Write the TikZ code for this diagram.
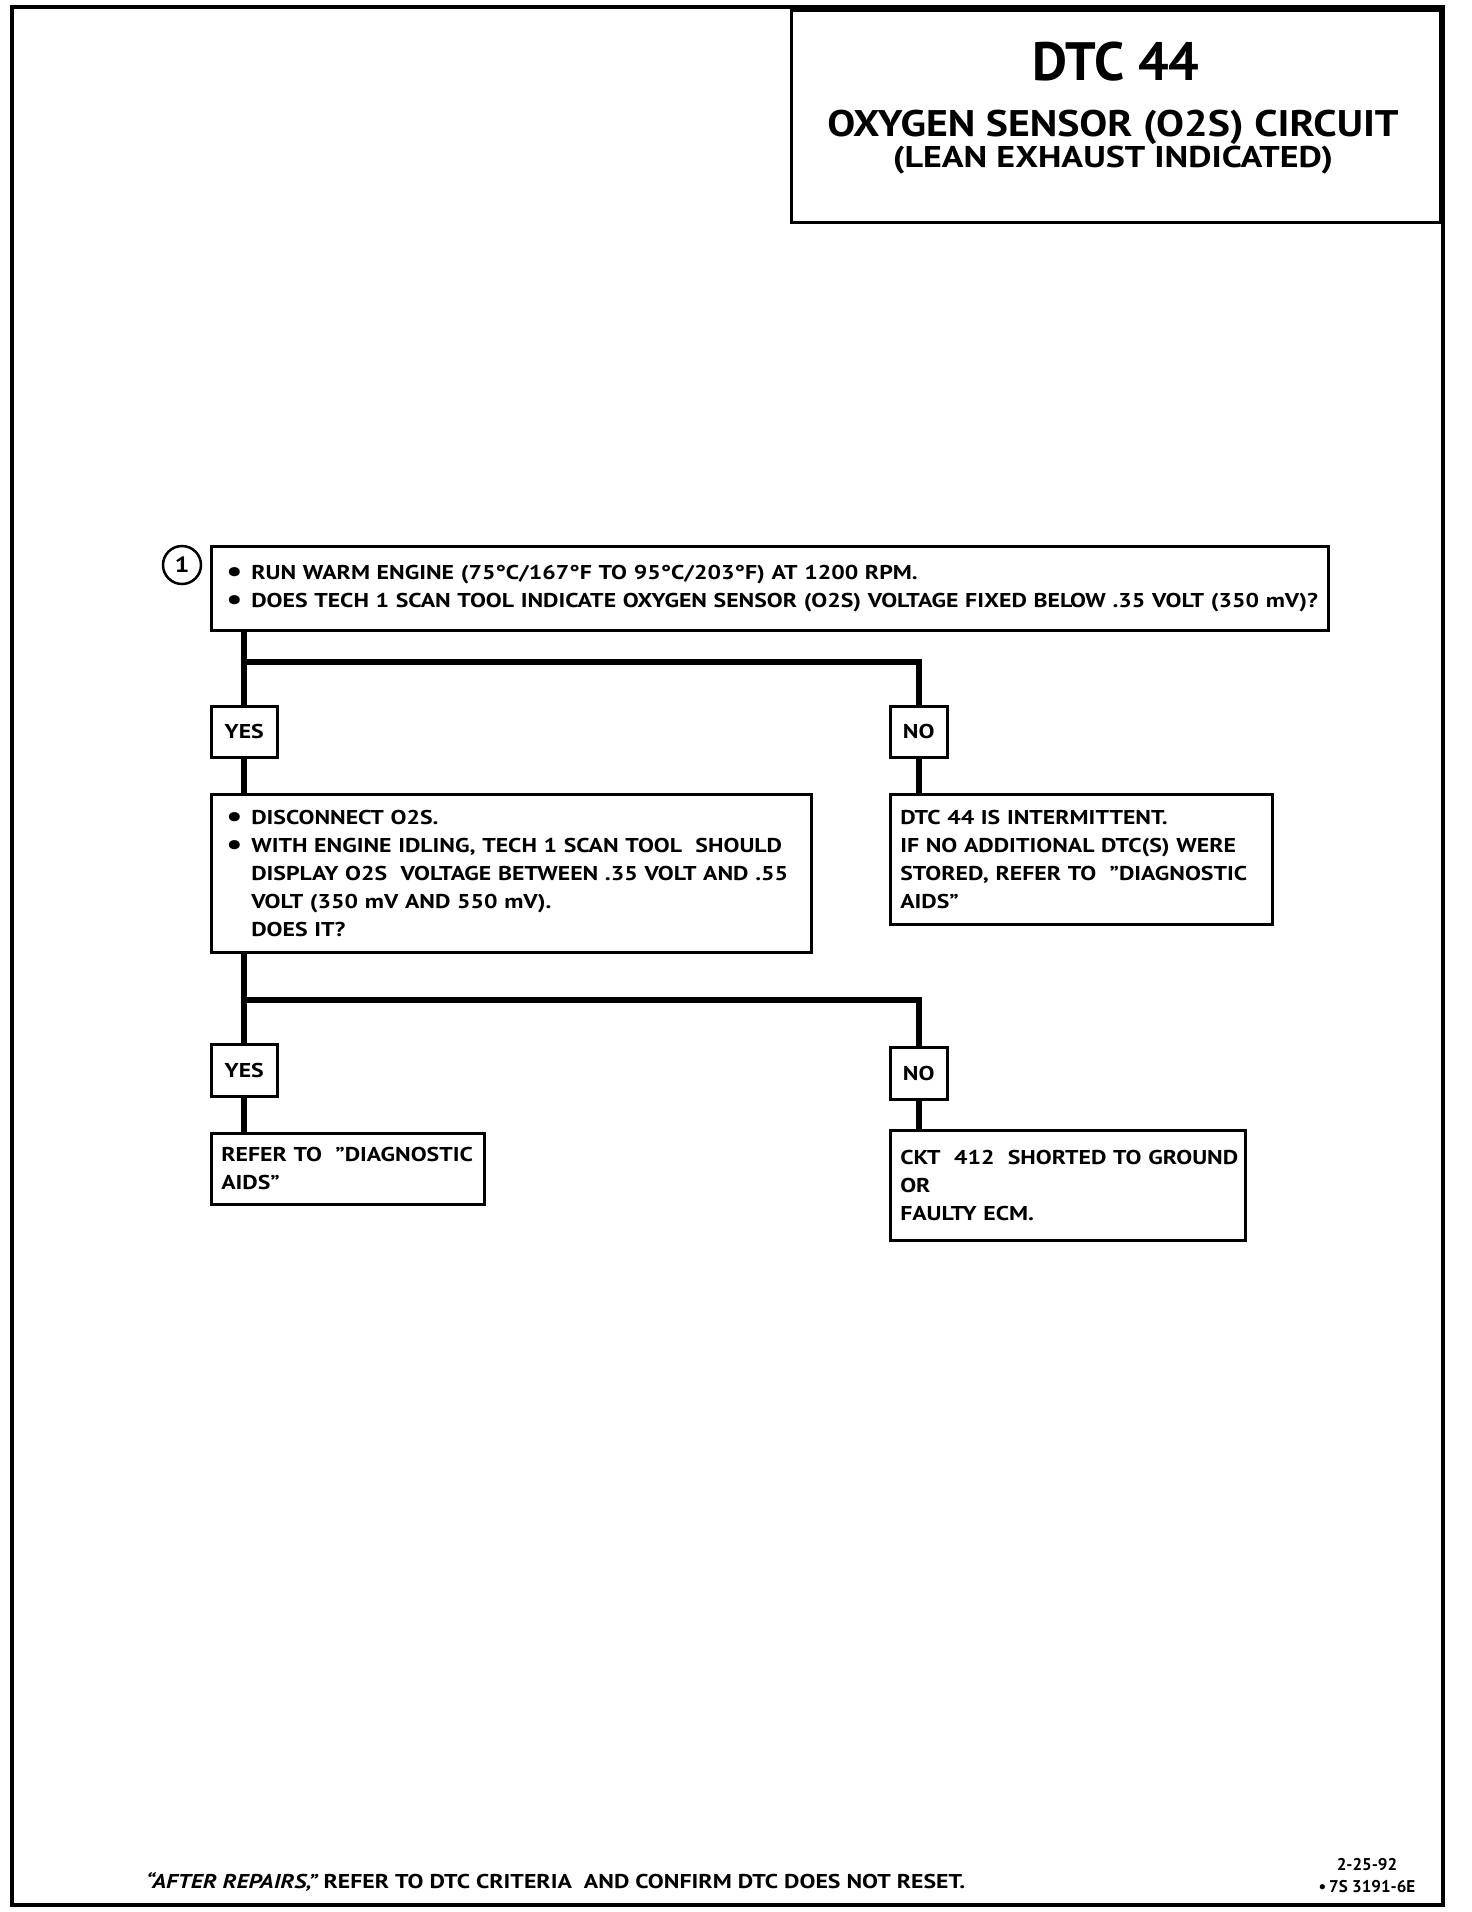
\documentclass[tikz,border=0pt]{standalone}
\usepackage{fontspec}
\usepackage{graphicx}
\setmainfont{PT Sans}
\newfontfamily\dtcbody{PT Sans}[FakeStretch=1.19]
\newfontfamily\dtcsub{PT Sans}[FakeStretch=1.13]
\newfontfamily\dtcsubb{PT Sans}[FakeStretch=1.2]
\usetikzlibrary{positioning}
\newcommand{\bul}{\makebox[25pt][l]{\raisebox{-2pt}{\scalebox{1.5}{\textbullet}}}}
\newcommand{\ind}{\hspace*{25pt}}
\newcommand{\dl}[1]{\mbox{#1}}
\newcommand{\bodyfont}{\dtcbody\fontsize{20}{28}\selectfont\bfseries}
\tikzset{
  box/.style={draw, line width=2.5pt, rectangle, inner ysep=0pt, anchor=north west, align=left, font=\bodyfont},
  lab/.style={draw, line width=2.5pt, rectangle, inner sep=0pt, anchor=north west, align=center, font=\bodyfont},
  conn/.style={line width=6pt},
}
\begin{document}
\begin{tikzpicture}[x=1pt,y=-1pt]
\useasboundingbox (0,0) rectangle (1472,1912);
% outer border
\draw[line width=4pt] (12,7) rectangle (1443,1905);
% title box
\node[draw, line width=3pt, anchor=north west, minimum width=649pt, minimum height=212pt, inner sep=0pt] (title) at (790,9) {};
\node[font=\fontsize{54}{60}\selectfont\bfseries, anchor=base] (t1) at (1116,80) {DTC 44};
\node[font=\dtcsub\fontsize{37}{40}\selectfont\bfseries, anchor=base] (t2) at (1113,136) {OXYGEN SENSOR (O2S) CIRCUIT};
\node[font=\dtcsubb\fontsize{30}{32}\selectfont\bfseries, anchor=base] (t3) at (1113,167) {(LEAN EXHAUST INDICATED)};

% step 1
\node[draw, circle, line width=2.5pt, minimum size=38pt, inner sep=0pt, font=\dtcbody\fontsize{22}{24}\selectfont\bfseries] (c1) at (182,565) {1};
\node[box, minimum width=1117pt, minimum height=84pt, inner xsep=15pt, text width=1087pt] (b1) at (210,545) {%
\dl{\bul RUN WARM ENGINE (75\textdegree C/167\textdegree F TO 95\textdegree C/203\textdegree F) AT 1200 RPM.}\\
\dl{\bul DOES TECH 1 SCAN TOOL INDICATE OXYGEN SENSOR (O2S) VOLTAGE FIXED BELOW .35 VOLT (350 mV)?}};

\node[lab, minimum width=66pt, minimum height=51pt] (y1) at (210,705) {YES};
\node[lab, minimum width=57pt, minimum height=51pt] (n1) at (889,705) {NO};

\node[box, minimum width=600pt, minimum height=158pt, inner xsep=15pt, text width=570pt] (b2) at (210,793) {%
\dl{\bul DISCONNECT O2S.}\\
\dl{\bul WITH ENGINE IDLING, TECH 1 SCAN TOOL\ \ SHOULD}\\
\dl{\ind DISPLAY O2S\ \ VOLTAGE BETWEEN .35 VOLT AND .55}\\
\dl{\ind VOLT (350 mV AND 550 mV).}\\
\dl{\ind DOES IT?}};

\node[box, minimum width=382pt, minimum height=130pt, inner xsep=10pt, text width=362pt] (r1) at (889,793) {%
\dl{DTC 44 IS INTERMITTENT.}\\
\dl{IF NO ADDITIONAL DTC(S) WERE}\\
\dl{STORED, REFER TO\ \ ”DIAGNOSTIC}\\
\dl{AIDS”}};

\node[lab, minimum width=66pt, minimum height=52pt] (y2) at (210,1043) {YES};
\node[lab, minimum width=57pt, minimum height=52pt] (n2) at (889,1046) {NO};

\node[box, minimum width=273pt, minimum height=71pt, inner xsep=10pt, text width=253pt] (r2) at (210,1132) {%
\dl{REFER TO\ \ ”DIAGNOSTIC}\\
\dl{AIDS”}};

\node[box, minimum width=355pt, minimum height=110pt, inner xsep=10pt, text width=335pt] (r3) at (889,1129) {%
\dl{CKT\ \ 412\ \ SHORTED TO GROUND}\\
\dl{OR}\\
\dl{FAULTY ECM.}};

% connectors
\coordinate (s1) at (243,662);
\coordinate (s2) at (243,1000);
\draw[conn] (y1.north |- b1.south) -- (y1.north);
\draw[conn] (s1) -| (n1.north);
\draw[conn] (y1.south) -- (y1.south |- b2.north);
\draw[conn] (n1.south) -- (n1.south |- r1.north);
\draw[conn] (y2.north |- b2.south) -- (y2.north);
\draw[conn] (s2) -| (n2.north);
\draw[conn] (y2.south) -- (y2.south |- r2.north);
\draw[conn] (n2.south) -- (n2.south |- r3.north);

% footer
\node[font=\bodyfont, anchor=base west, inner sep=0pt] (foot) at (146,1888) {\itshape “AFTER REPAIRS,”\upshape\ REFER TO DTC CRITERIA\ \ AND CONFIRM DTC DOES NOT RESET.};
\node[font=\fontsize{17}{22}\selectfont\bfseries, anchor=base, align=center, inner sep=0pt] (code) at (1367,1892) {2-25-92\\ \textbullet\,7S 3191-6E};
\end{tikzpicture}
\end{document}
